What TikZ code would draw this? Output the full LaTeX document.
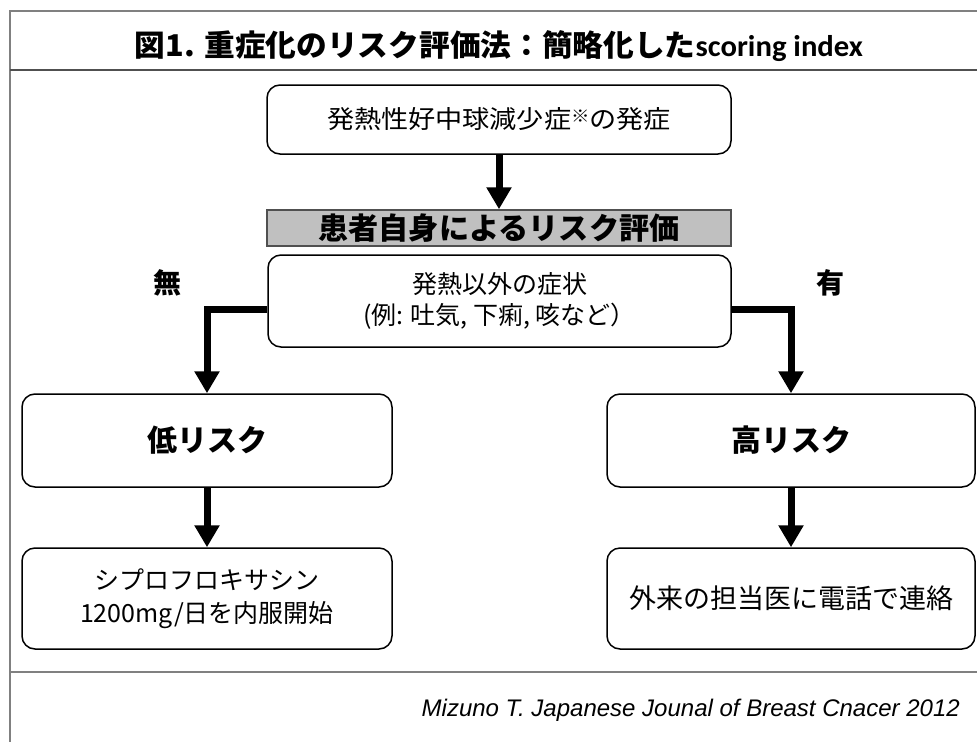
\documentclass[tikz,border=0pt]{standalone}
\usepackage{fontspec}
\usepackage{graphicx}
\setmainfont{Noto Sans CJK JP}
\newfontfamily\footfont{Liberation Sans}
\newfontfamily\latinbold{Carlito}
\usetikzlibrary{arrows.meta}
\definecolor{framegray}{HTML}{808080}
\definecolor{sepgray}{HTML}{505050}
\definecolor{boxgray}{HTML}{C0C0C0}
\newcommand{\fitw}[2]{\resizebox{#1}{\height}{#2}}
\begin{document}
\begin{tikzpicture}[x=1pt,y=-1pt,
  rbox/.style={draw=black,line width=1.5pt,rounded corners=13pt,fill=white,align=center,inner sep=0pt},
  lbl/.style={inner sep=0pt,align=center},
  flow/.style={line width=7pt,-{Triangle[width=24pt,length=22pt]}},
  framel/.style={draw=framegray,line width=2pt}]
\useasboundingbox (0,0) rectangle (977,742);
% frame
\draw[framel] (977,11) -- (10,11) -- (10,742);
\draw[draw=sepgray,line width=1.5pt] (10,70) -- (977,70);
\draw[framel] (10,672) -- (977,672);
% title
\node[lbl] (title) at (499,46) {\fontsize{30}{30}\selectfont\bfseries\fitw{728pt}{図1. 重症化のリスク評価法：簡略化した{\latinbold scoring index}}};
% boxes
\node[rbox,minimum width=464pt,minimum height=69pt] (onset) at (499,119.5)
  {\fontsize{25}{25}\selectfont\fitw{344pt}{発熱性好中球減少症\raisebox{6pt}{\fontsize{17}{17}\selectfont ※}の発症}};
\node[draw=sepgray,line width=1.5pt,fill=boxgray,minimum width=464pt,minimum height=36pt,inner sep=0pt] (selfeval) at (499,228)
  {\fontsize{30}{30}\selectfont\bfseries\fitw{361pt}{患者自身によるリスク評価}};
\node[rbox,minimum width=463pt,minimum height=92pt,font=\fontsize{25}{31}\selectfont] (symptom) at (499.5,301)
  {発熱以外の症状\\(例: 吐気, 下痢, 咳など）};
\node[lbl,font=\fontsize{28}{28}\selectfont\bfseries] (nolbl) at (167,283) {無};
\node[lbl,font=\fontsize{28}{28}\selectfont\bfseries] (yeslbl) at (830,283) {有};
\node[rbox,minimum width=370pt,minimum height=93pt,font=\fontsize{30}{30}\selectfont\bfseries] (low) at (207,440.5) {低リスク};
\node[rbox,minimum width=368pt,minimum height=93pt,font=\fontsize{30}{30}\selectfont\bfseries] (high) at (791,440.5) {高リスク};
\node[rbox,minimum width=370pt,minimum height=101pt,font=\fontsize{25}{33}\selectfont] (bl) at (207,598.5)
  {シプロフロキサシン\\1200mg/日を内服開始};
\node[rbox,minimum width=368pt,minimum height=101pt,font=\fontsize{27}{27}\selectfont] (br) at (791,598.5)
  {外来の担当医に電話で連絡};
% connectors
\draw[flow] (onset) -- (selfeval);
\draw[flow] ([yshift=-8pt]symptom.west) -| (low.north);
\draw[flow] ([yshift=-8pt]symptom.east) -| (high.north);
\draw[flow] (low) -- (bl);
\draw[flow] (high) -- (br);
% footer
\node[lbl,anchor=base east] (cite) at (960,716) {\fontsize{24}{24}\selectfont\footfont\itshape Mizuno T. Japanese Jounal of Breast Cnacer 2012};
\end{tikzpicture}
\end{document}
